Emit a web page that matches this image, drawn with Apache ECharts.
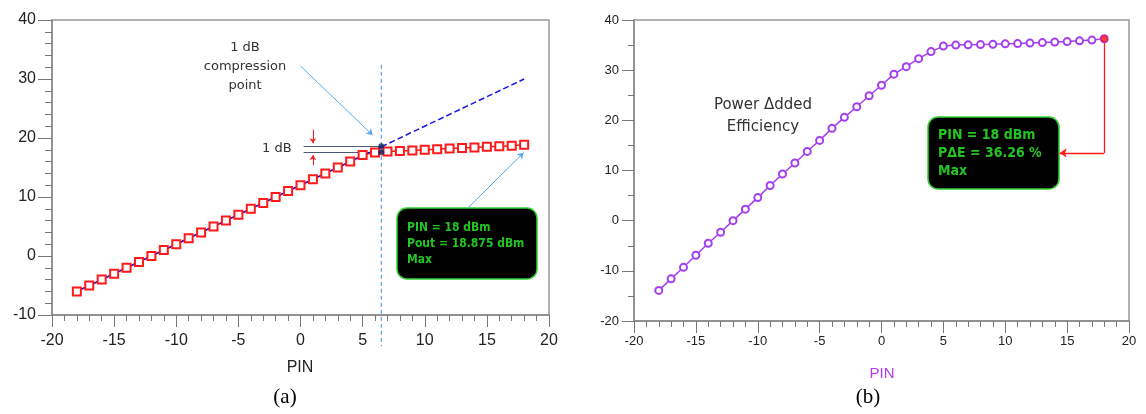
<!DOCTYPE html>
<html>
<head>
<meta charset="utf-8">
<script src="https://cdn.jsdelivr.net/npm/echarts@6/dist/echarts.min.js"></script>
<style>
html, body { margin: 0; padding: 0; background: #fff; }
#main { width: 1146px; height: 414px; }
</style>
</head>
<body>
<div id="main"></div>
<script>
// (a) output power vs input power
var pinA = [-18, -17, -16, -15, -14, -13, -12, -11, -10, -9, -8, -7, -6, -5, -4, -3, -2, -1, 0, 1, 2, 3, 4, 5, 6, 7, 8, 9, 10, 11, 12, 13, 14, 15, 16, 17, 18];
var pout = [-6, -5, -4, -3, -2, -1, 0, 1, 2, 3, 4, 5, 6, 7, 8, 9, 10, 11, 12, 13, 14, 15, 16, 17.1, 17.55, 17.7, 17.8, 17.9, 18.0, 18.1, 18.2, 18.3, 18.4, 18.5, 18.6, 18.7, 18.875];
// linear gain line: solid part up to the compression point, dashed after
var linPin = [-18, 6.5, 18];
var linPout = [-6, 18.5, 30];
var p1dB = 6.5;
var p1dBLevels = [18.6, 17.6];

// (b) power added efficiency vs input power
var pinB = [-18, -17, -16, -15, -14, -13, -12, -11, -10, -9, -8, -7, -6, -5, -4, -3, -2, -1, 0, 1, 2, 3, 4, 5, 6, 7, 8, 9, 10, 11, 12, 13, 14, 15, 16, 17, 18];
var pae = [-13.9, -11.6, -9.3, -6.9, -4.5, -2.3, 0, 2.3, 4.6, 7.0, 9.3, 11.5, 13.8, 16.0, 18.4, 20.6, 22.7, 24.9, 27.0, 29.2, 30.7, 32.3, 33.7, 34.8, 35.0, 35.05, 35.1, 35.15, 35.25, 35.3, 35.4, 35.5, 35.6, 35.7, 35.85, 36.0, 36.26];

function zip(xs, ys) {
  return xs.map(function (x, i) { return [x, ys[i]]; });
}

var myChart = echarts.init(document.getElementById('main'));

function xAx(idx, fs, lm, tl) {
  return {
    type: 'value', gridIndex: idx, min: -20, max: 20, interval: 5,
    axisLine: { onZero: false, lineStyle: { color: '#888', width: 1.5 } },
    axisTick: { length: tl, lineStyle: { color: '#777' } },
    minorTick: { show: true, splitNumber: 5, length: tl / 2, lineStyle: { color: '#777' } },
    splitLine: { show: false },
    axisLabel: { fontSize: fs, color: '#222', margin: lm, fontFamily: 'Liberation Sans' }
  };
}
function yAx(idx, min, interval, minorSplit, fs, lm, tl) {
  return {
    type: 'value', gridIndex: idx, min: min, max: 40, interval: interval,
    axisLine: { show: true, onZero: false, lineStyle: { color: '#888', width: 1.5 } },
    axisTick: { show: true, length: tl, lineStyle: { color: '#777' } },
    minorTick: { show: true, splitNumber: minorSplit, length: tl / 2, lineStyle: { color: '#777' } },
    splitLine: { show: false },
    axisLabel: { fontSize: fs, color: '#222', margin: lm, fontFamily: 'Liberation Sans' }
  };
}

var greenText = { fill: '#22c522', font: 'bold 12px "DejaVu Sans Condensed"', lineHeight: 16 };

option = {
  animation: false,
  grid: [
    { left: 52, top: 20, width: 497, height: 295, show: true, borderColor: '#999', borderWidth: 1.5 },
    { left: 634, top: 20, width: 495, height: 301, show: true, borderColor: '#999', borderWidth: 1.5 }
  ],
  xAxis: [xAx(0, 16, 18, 12), xAx(1, 13, 14, 12)],
  yAxis: [yAx(0, -10, 10, 5, 16, 16, 14), yAx(1, -20, 10, 2, 13, 15, 12)],
  series: [
    {
      name: 'Pout', type: 'line', xAxisIndex: 0, yAxisIndex: 0,
      data: zip(pinA, pout), symbol: 'emptyRect', symbolSize: 8,
      lineStyle: { color: '#ff1a1a', width: 1.5 },
      itemStyle: { color: '#ff1a1a', borderWidth: 1.5 }
    },
    {
      name: 'linear', type: 'line', xAxisIndex: 0, yAxisIndex: 0, z: 3,
      data: zip(linPin, linPout).slice(0, 2), symbol: 'none',
      lineStyle: { color: '#1414e6', width: 1.5 }
    },
    {
      name: 'linear ext', type: 'line', xAxisIndex: 0, yAxisIndex: 0, z: 3,
      data: zip(linPin, linPout).slice(1), symbol: 'none',
      lineStyle: { color: '#1414e6', width: 1.5, type: [6, 3] }
    },
    {
      name: 'p1dB marker', type: 'line', xAxisIndex: 0, yAxisIndex: 0, clip: false,
      data: [[p1dB, 32.4], [p1dB, -15.3]], symbol: 'none',
      lineStyle: { color: '#3a8fe0', width: 1, type: [4, 3] }
    },
    {
      name: 'levels', type: 'lines', coordinateSystem: 'cartesian2d', xAxisIndex: 0, yAxisIndex: 0,
      data: p1dBLevels.map(function (v) { return { coords: [[0.25, v], [p1dB, v]] }; }),
      lineStyle: { color: '#4a5a78', width: 1.2, opacity: 1 }
    },
    {
      name: 'dots', type: 'scatter', xAxisIndex: 0, yAxisIndex: 0, z: 5,
      data: p1dBLevels.map(function (v) { return [p1dB, v]; }),
      symbolSize: 6, itemStyle: { color: '#14245c' }
    },
    {
      name: 'red arrows', type: 'lines', coordinateSystem: 'cartesian2d', xAxisIndex: 0, yAxisIndex: 0,
      symbol: ['none', 'arrow'], symbolSize: 5,
      data: [
        { coords: [[1, 21.4], [1, 19.1]] },
        { coords: [[1, 15.4], [1, 17.1]] }
      ],
      lineStyle: { color: '#ff1a1a', width: 1, opacity: 1 }
    },
    {
      name: 'blue arrows', type: 'lines', coordinateSystem: 'cartesian2d', xAxisIndex: 0, yAxisIndex: 0,
      symbol: ['none', 'arrow'], symbolSize: 6,
      data: [
        { coords: [[0, 32.2], [5.8, 20.5]] },
        { coords: [[13.45, 8.1], [17.95, 17.5]] }
      ],
      lineStyle: { color: '#5aaaf0', width: 1, opacity: 1 }
    },
    {
      name: 'PAE', type: 'line', xAxisIndex: 1, yAxisIndex: 1,
      data: zip(pinB, pae), symbol: 'emptyCircle', symbolSize: 7,
      lineStyle: { color: '#a43ef0', width: 1.5 },
      itemStyle: { color: '#a43ef0', borderWidth: 1.2 }
    },
    {
      name: 'max', type: 'scatter', xAxisIndex: 1, yAxisIndex: 1, z: 5,
      data: [[pinB[pinB.length - 1], pae[pae.length - 1]]], symbolSize: 7,
      itemStyle: { color: '#ff1010' }
    },
    {
      name: 'max drop', type: 'lines', coordinateSystem: 'cartesian2d', xAxisIndex: 1, yAxisIndex: 1,
      symbol: 'none',
      data: [{ coords: [[18, 36.26], [18, 13.5]] }],
      lineStyle: { color: '#ff1a1a', width: 1.3, opacity: 1 }
    },
    {
      name: 'max arrow', type: 'lines', coordinateSystem: 'cartesian2d', xAxisIndex: 1, yAxisIndex: 1,
      symbol: ['none', 'arrow'], symbolSize: 7, z: 10,
      data: [{ coords: [[18, 13.5], [14.4, 13.5]] }],
      lineStyle: { color: '#ff1a1a', width: 1.3, opacity: 1 }
    }
  ],
  graphic: [
    { type: 'text', x: 245, y: 38, style: { text: '1 dB\ncompression\npoint', align: 'center', fill: '#333', font: '13px "DejaVu Sans"', lineHeight: 19 } },
    { type: 'text', x: 262, y: 142, style: { text: '1 dB', fill: '#333', font: '13px "DejaVu Sans"' } },
    {
      type: 'rect', shape: { x: 397, y: 208, width: 140, height: 71, r: 10 },
      style: { fill: '#000', stroke: '#2ed12e', lineWidth: 1.5 }
    },
    { type: 'text', x: 407, y: 220, style: Object.assign({ text: 'PIN = 18 dBm\nPout = 18.875 dBm\nMax' }, greenText) },
    { type: 'text', x: 763, y: 94, style: { text: 'Power \u0394dded\nEfficiency', align: 'center', fill: '#333', font: '15px "DejaVu Sans"', lineHeight: 22 } },
    {
      type: 'rect', shape: { x: 928, y: 117, width: 131, height: 72, r: 10 },
      style: { fill: '#000', stroke: '#2ed12e', lineWidth: 1.5 }
    },
    { type: 'text', x: 938, y: 126, style: Object.assign({ text: 'PIN = 18 dBm\nP\u0394E = 36.26 %\nMax' }, greenText, { font: 'bold 14px "DejaVu Sans Condensed"', lineHeight: 18 }) },
    { type: 'text', x: 300, y: 360, style: { text: 'PIN', align: 'center', fill: '#222', font: '16px "Liberation Sans"' } },
    { type: 'text', x: 882, y: 366, style: { text: 'PIN', align: 'center', fill: '#b23ef5', font: '15px "Liberation Sans"' } },
    { type: 'text', x: 285, y: 387, style: { text: '(a)', align: 'center', fill: '#000', font: '21px "Liberation Serif"' } },
    { type: 'text', x: 868, y: 387, style: { text: '(b)', align: 'center', fill: '#000', font: '21px "Liberation Serif"' } }
  ]
};
myChart.setOption(option);
</script>
</body>
</html>
